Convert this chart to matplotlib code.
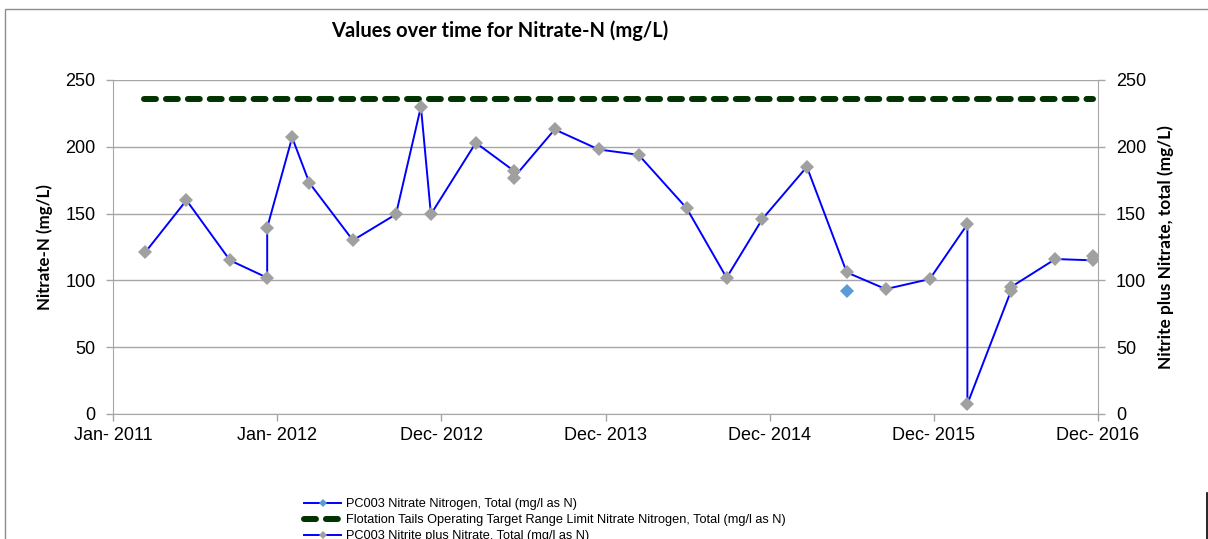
import numpy as np
import matplotlib
matplotlib.use('Agg')
import matplotlib.pyplot as plt
import matplotlib.dates as mdates
from matplotlib.lines import Line2D
from matplotlib.patches import Rectangle

# PC003 Nitrite plus Nitrate, total (mg/l as N)
nn_dates = ['2011-03-16', '2011-06-15', '2011-09-19', '2011-12-10', '2011-12-10',
            '2012-02-03', '2012-03-12', '2012-06-16', '2012-09-19', '2012-11-13',
            '2012-12-05', '2013-03-14', '2013-06-06', '2013-06-06', '2013-09-04',
            '2013-12-10', '2014-03-08', '2014-06-22', '2014-09-18', '2014-12-06',
            '2015-03-14', '2015-06-10', '2015-09-04', '2015-12-10', '2016-03-02',
            '2016-03-02', '2016-06-06', '2016-06-06', '2016-09-12', '2016-12-04',
            '2016-12-04']
nn_values = [121, 160, 115, 102, 139.5, 207, 173, 130, 149.5, 230,
             149.5, 203, 182, 177, 213, 198, 194, 154, 102, 146,
             185, 106, 93.5, 101, 142, 7.5, 92, 95, 116, 115, 118]

# PC003 Nitrate Nitrogen, Total (mg/l as N)
nitrate_dates = ['2015-06-10']
nitrate_values = [92]

# operating target limit
limit_dates = ['2011-03-13', '2016-12-04']
limit_values = [236, 236]

x_start, x_end = '2011-01-04', '2016-12-15'
y_ticks = [0, 50, 100, 150, 200, 250]

labels = ['PC003 Nitrate Nitrogen, Total (mg/l as N)',
          'Flotation Tails Operating Target Range Limit Nitrate Nitrogen, Total (mg/l as N)',
          'PC003 Nitrite plus Nitrate, Total (mg/l as N)']

TICK_FONT = ['Liberation Sans', 'DejaVu Sans']
BOLD_FONT = ['Lato', 'DejaVu Sans']
LEG_FONT = ['Liberation Sans Narrow', 'Liberation Sans', 'DejaVu Sans']
GRID = '#a6a6a6'

to_num = lambda ds: mdates.datestr2num(ds)

fig = plt.figure(figsize=(12.08, 5.39), dpi=100)
ax = fig.add_axes([113 / 1208, 1 - 414 / 539, (1098 - 113) / 1208, (414 - 80) / 539])

ax.plot(to_num(nn_dates), nn_values, '-', color='#0000ff', lw=1.4,
        marker='D', ms=7.4, mfc='#a0a0a0', mec='#a0a0a0', mew=0, zorder=3)
ax.plot(to_num(nitrate_dates), nitrate_values, 'D', color='#5b9bd5', ms=6.8,
        mew=0, zorder=3)
ax.plot(to_num(limit_dates), limit_values, color='#003300', lw=4.3,
        linestyle=(0, (2.0, 1.67)), dash_capstyle='round', zorder=2)

x0, x1 = to_num([x_start, x_end])
ax.set_xlim(x0, x1)
ax.set_ylim(0, 250)
ax.set_xticks(np.linspace(x0, x1, 7))
ax.xaxis.set_major_formatter(mdates.DateFormatter('%b- %Y'))
ax.set_yticks(y_ticks)
ax.yaxis.grid(True, color=GRID, lw=1)
ax.set_axisbelow(True)

ax2 = ax.twinx()
ax2.set_ylim(0, 250)
ax2.set_yticks(y_ticks)

for a in (ax, ax2):
    for s in a.spines.values():
        s.set_visible(False)
    a.tick_params(length=5, color=GRID, width=1, labelsize=13)
    for lab in a.get_xticklabels() + a.get_yticklabels():
        lab.set_family(TICK_FONT)
ax.tick_params(axis='x', pad=4)
ax.tick_params(axis='y', pad=7.5)
ax2.tick_params(axis='y', pad=8)
ax.spines['left'].set_visible(True)
ax.spines['left'].set_color(GRID)
ax.spines['bottom'].set_visible(True)
ax.spines['bottom'].set_color(GRID)
ax2.spines['right'].set_visible(True)
ax2.spines['right'].set_color(GRID)

ax.set_ylabel('Nitrate-N (mg/L)', family=BOLD_FONT, fontweight='bold',
              fontsize=12.2, labelpad=9)
ax2.set_ylabel('Nitrite plus Nitrate, total (mg/L)', family=BOLD_FONT,
               fontweight='bold', fontsize=12.4, labelpad=8)

fig.text(500 / 1208, 1 - 31 / 539, 'Values over time for Nitrate-N (mg/L)',
         family=BOLD_FONT, fontweight='bold', fontsize=14.5, ha='center', va='center')

handles = [Line2D([], [], color='#0000ff', lw=1.4, marker='D', ms=4,
                  mfc='#5b9bd5', mec='#5b9bd5', mew=0),
           Line2D([], [], color='#003300', lw=4.3, linestyle=(0, (2.0, 1.67)),
                  dash_capstyle='round'),
           Line2D([], [], color='#0000ff', lw=1.4, marker='D', ms=4,
                  mfc='#a0a0a0', mec='#a0a0a0', mew=0)]
fig.legend(handles, labels, loc='upper left', bbox_to_anchor=(298 / 1208, 1 - 492 / 539),
           frameon=False, prop={'family': LEG_FONT, 'size': 9.2},
           handlelength=2.9, handletextpad=0.35, labelspacing=0.3, borderpad=0)

# chart frame and stray line at the right edge
fig.add_artist(Rectangle((5 / 1208, -0.1), 1.2, 1.1 - 9 / 539, transform=fig.transFigure,
                         fill=False, edgecolor='#8c8c8c', lw=1))
fig.add_artist(Line2D([1206.5 / 1208] * 2, [0, 1 - 493 / 539], transform=fig.transFigure,
                      color='black', lw=1.2))

fig.savefig('out.png', dpi=100)
